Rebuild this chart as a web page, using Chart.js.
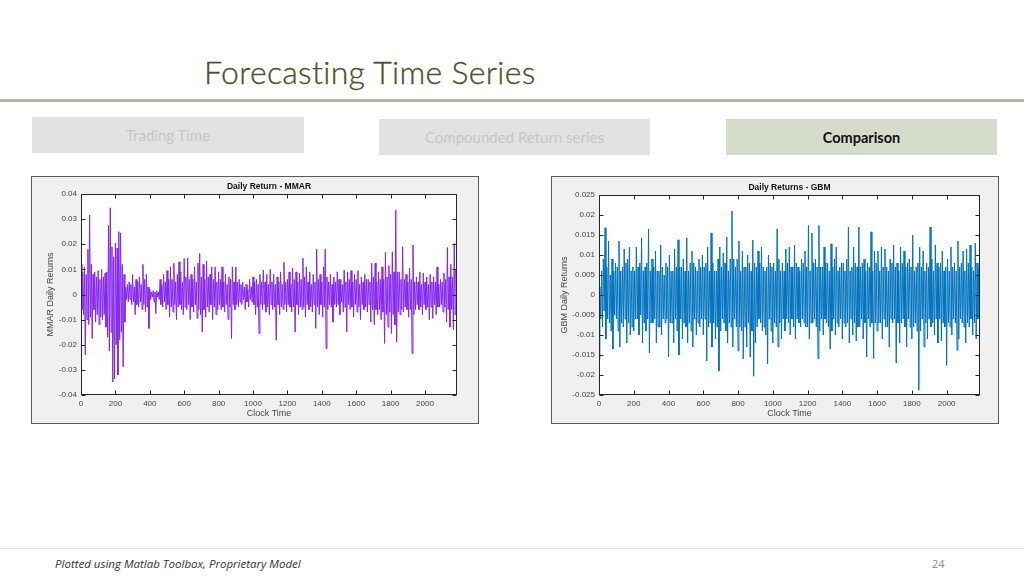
<!DOCTYPE html>
<html><head><meta charset="utf-8">
<script src="https://cdn.jsdelivr.net/npm/chart.js@4.4.1/dist/chart.umd.min.js"></script>
<style>
html,body{margin:0;padding:0;background:#fff;width:1024px;height:576px;overflow:hidden;font-family:"Liberation Sans",Arial,sans-serif;}
.abs{position:absolute;}
#title{left:204px;top:52px;font-family:Lato,"Open Sans",sans-serif;font-weight:300;font-size:32px;color:#46522a;letter-spacing:0.3px;white-space:nowrap;-webkit-text-stroke:0.3px #46522a;}
#rule{left:0;top:99px;width:1024px;height:3px;background:#b4baa0;}
.tab{height:36px;display:flex;align-items:center;justify-content:center;font-family:Lato,sans-serif;font-size:15px;}
#t1{left:32px;top:117px;width:272px;background:#e2e2e2;color:#c6c6c6;}
#t2{left:379px;top:119px;width:271px;background:#e2e2e2;color:#c6c6c6;}
#t3{left:726px;top:119px;width:271px;background:#d6dccb;color:#111;font-weight:bold;font-size:14.5px;}
.box{border:1px solid #5a5a5a;background:#f0f0f0;width:446px;height:246px;}
#b1{left:31px;top:176px;}
#b2{left:551px;top:176px;}
#foot{left:0;top:548px;width:1024px;height:1px;background:#e2e2e2;}
#note{left:55px;top:556px;font-family:"Open Sans",sans-serif;font-style:italic;font-size:11.5px;color:#333;}
#page{left:932px;top:556px;font-family:"Open Sans",sans-serif;font-size:11px;color:#888;}
</style></head>
<body>
<div id="title" class="abs">Forecasting Time Series</div>
<div id="rule" class="abs"></div>
<div id="t1" class="abs tab">Trading Time</div>
<div id="t2" class="abs tab">Compounded Return series</div>
<div id="t3" class="abs tab">Comparison</div>
<div id="b1" class="abs box"><canvas id="c1" width="446" height="246"></canvas></div>
<div id="b2" class="abs box"><canvas id="c2" width="446" height="246"></canvas></div>
<div id="foot" class="abs"></div>
<div id="note" class="abs">Plotted using Matlab Toolbox, Proprietary Model</div>
<div id="page" class="abs">24</div>
<script>
const mmarReturns = [
 0.012,-0.006,0.009,-0.008,0.011,-0.024,0.008,-0.01,0.018,-0.012,0.0316,-0.009,0.012,-0.0175,0.008,-0.006,0.009,-0.011,0.007,-0.008,
 0.0095,-0.012,0.006,-0.009,0.01,-0.01,0.007,-0.008,0.0085,-0.013,0.009,-0.017,0.0275,-0.0225,0.0345,-0.015,0.019,-0.0348,0.015,-0.0335,
 0.0205,-0.02,0.0185,-0.032,0.025,-0.018,0.0245,-0.015,0.012,-0.0288,0.008,-0.011,0.003,-0.002,0.004,-0.003,0.005,-0.002,0.004,-0.004,
 0.008,-0.003,0.003,-0.008,0.006,-0.004,0.005,-0.005,0.007,-0.003,0.004,-0.006,0.012,-0.004,0.006,-0.007,0.008,-0.005,0.003,-0.0135,
 0.002,-0.002,0.001,-0.001,0.0015,-0.003,0.001,-0.0076,0.0015,-0.001,0.001,-0.002,0.006,-0.004,0.004,-0.005,0.008,-0.003,0.005,-0.006,
 0.0095,-0.004,0.006,-0.009,0.011,-0.005,0.006,-0.007,0.0124,-0.004,0.005,-0.01,0.008,-0.005,0.013,-0.004,0.009,-0.006,0.005,-0.008,
 0.0143,-0.005,0.007,-0.006,0.0145,-0.004,0.006,-0.01,0.008,-0.005,0.006,-0.007,0.011,-0.004,0.005,-0.0095,0.0125,-0.006,0.0163,-0.008,
 0.007,-0.015,0.012,-0.006,0.006,-0.009,0.0133,-0.005,0.007,-0.007,0.008,-0.004,0.011,-0.01,0.006,-0.005,0.011,-0.008,0.005,-0.006,
 0.009,-0.004,0.006,-0.006,0.011,-0.005,0.005,-0.007,0.008,-0.004,0.004,-0.01,0.007,-0.005,0.006,-0.0175,0.011,-0.004,0.005,-0.006,
 0.011,-0.004,0.005,-0.005,0.006,-0.003,0.004,-0.004,0.005,-0.002,0.003,-0.006,0.004,-0.003,0.002,-0.005,0.006,-0.002,0.003,-0.003,
 0.007,-0.004,0.005,-0.008,0.006,-0.005,0.004,-0.0155,0.008,-0.004,0.005,-0.006,0.0097,-0.004,0.005,-0.007,0.008,-0.005,0.004,-0.008,
 0.01,-0.004,0.005,-0.006,0.008,-0.005,0.004,-0.0182,0.007,-0.004,0.005,-0.008,0.009,-0.005,0.004,-0.006,0.0128,-0.004,0.005,-0.007,
 0.006,-0.004,0.009,-0.005,0.004,-0.007,0.0105,-0.005,0.006,-0.015,0.009,-0.004,0.005,-0.008,0.0085,-0.005,0.006,-0.006,0.0145,-0.005,
 0.007,-0.009,0.011,-0.004,0.005,-0.006,0.009,-0.005,0.004,-0.007,0.008,-0.004,0.005,-0.0135,0.018,-0.005,0.006,-0.008,0.008,-0.004,
 0.005,-0.009,0.011,-0.005,0.018,-0.0215,0.007,-0.006,0.005,-0.004,0.008,-0.005,0.004,-0.011,0.007,-0.004,0.005,-0.005,0.009,-0.004,
 0.006,-0.008,0.006,-0.003,0.004,-0.007,0.0097,-0.005,0.005,-0.0149,0.009,-0.004,0.006,-0.006,0.0095,-0.005,0.005,-0.009,0.008,-0.004,
 0.006,-0.007,0.0095,-0.005,0.004,-0.01,0.007,-0.004,0.005,-0.006,0.008,-0.005,0.006,-0.007,0.006,-0.004,0.005,-0.011,0.0124,-0.006,
 0.007,-0.012,0.0125,-0.006,0.005,-0.008,0.009,-0.006,0.006,-0.01,0.011,-0.007,0.006,-0.0195,0.0168,-0.008,0.007,-0.013,0.0115,-0.007,
 0.008,-0.0155,0.017,-0.008,0.009,-0.012,0.0336,-0.019,0.009,-0.007,0.009,-0.008,0.006,-0.006,0.019,-0.007,0.006,-0.005,0.008,-0.006,
 0.005,-0.009,0.0105,-0.006,0.006,-0.0235,0.0197,-0.008,0.005,-0.006,0.007,-0.004,0.005,-0.006,0.009,-0.005,0.004,-0.008,0.0085,-0.004,
 0.005,-0.006,0.007,-0.005,0.004,-0.01,0.008,-0.005,0.005,-0.0095,0.007,-0.004,0.005,-0.008,0.011,-0.005,0.004,-0.005,0.006,-0.004,
 0.005,-0.007,0.0085,-0.005,0.006,-0.011,0.0187,-0.006,0.007,-0.013,0.012,-0.006,0.007,-0.014,0.0203,-0.008,0.01,-0.006
];
const gbmReturns = [
 -0.016,0.002,-0.006,0.006,-0.008,0.009,-0.004,0.0168,-0.011,0.007,-0.006,0.0135,-0.007,0.005,-0.009,0.009,-0.0135,0.006,-0.005,0.008,
 -0.006,0.007,-0.009,0.0135,-0.013,0.006,-0.007,0.007,-0.008,0.0115,-0.006,0.008,-0.012,0.009,-0.007,0.012,-0.01,0.006,-0.008,0.007,
 -0.009,0.006,-0.006,0.012,-0.006,0.007,-0.01,0.008,-0.005,0.0143,-0.012,0.006,-0.007,0.007,-0.009,0.008,-0.006,0.0165,-0.0145,0.006,
 -0.007,0.009,-0.007,0.007,-0.006,0.011,-0.012,0.006,-0.008,0.006,-0.008,0.0125,-0.01,0.007,-0.006,0.005,-0.007,0.008,-0.006,0.007,
 -0.0155,0.01,-0.007,0.006,-0.007,0.006,-0.012,0.0115,-0.006,0.007,-0.009,0.0138,-0.015,0.007,-0.006,0.007,-0.011,0.009,-0.007,0.006,
 -0.008,0.0143,-0.012,0.006,-0.007,0.008,-0.009,0.011,-0.013,0.008,-0.006,0.007,-0.01,0.006,-0.007,0.009,-0.008,0.007,-0.006,0.01,
 -0.01,0.007,-0.006,0.008,-0.0165,0.012,-0.008,0.006,-0.007,0.0155,-0.013,0.008,-0.007,0.006,-0.011,0.006,-0.008,0.009,-0.019,0.012,
 -0.009,0.007,-0.006,0.0105,-0.007,0.008,-0.009,0.0145,-0.012,0.006,-0.007,0.009,-0.008,0.021,-0.013,0.009,-0.006,0.007,-0.008,0.009,
 -0.014,0.0135,-0.008,0.006,-0.009,0.011,-0.016,0.007,-0.008,0.007,-0.013,0.01,-0.007,0.008,-0.0155,0.006,-0.009,0.0137,-0.0203,0.008,
 -0.012,0.007,-0.008,0.011,-0.006,0.008,-0.007,0.012,-0.009,0.007,-0.008,0.006,-0.01,0.007,-0.0172,0.01,-0.006,0.008,-0.009,0.007,
 -0.012,0.008,-0.007,0.006,-0.008,0.0165,-0.013,0.009,-0.007,0.006,-0.011,0.008,-0.006,0.006,-0.009,0.0115,-0.006,0.008,-0.007,0.012,
 -0.01,0.007,-0.006,0.007,-0.008,0.0125,-0.011,0.008,-0.006,0.007,-0.007,0.006,-0.008,0.009,-0.006,0.008,-0.007,0.011,-0.008,0.007,
 -0.008,0.0174,-0.011,0.006,-0.007,0.0155,-0.007,0.008,-0.006,0.009,-0.008,0.007,-0.0159,0.0174,-0.009,0.007,-0.006,0.007,-0.01,0.012,
 -0.006,0.008,-0.007,0.008,-0.008,0.006,-0.0135,0.0128,-0.009,0.007,-0.006,0.009,-0.01,0.012,-0.007,0.006,-0.008,0.007,-0.006,0.008,
 -0.011,0.008,-0.007,0.006,-0.008,0.009,-0.007,0.017,-0.012,0.006,-0.006,0.007,-0.01,0.012,-0.007,0.008,-0.0115,0.007,-0.008,0.017,
 -0.008,0.007,-0.006,0.008,-0.011,0.009,-0.007,0.006,-0.0155,0.008,-0.006,0.007,-0.008,0.0158,-0.007,0.006,-0.0159,0.011,-0.007,0.008,
 -0.009,0.011,-0.007,0.006,-0.007,0.012,-0.011,0.007,-0.006,0.0115,-0.008,0.007,-0.008,0.006,-0.013,0.009,-0.006,0.008,-0.007,0.0125,
 -0.006,0.007,-0.017,0.008,-0.007,0.006,-0.012,0.012,-0.007,0.008,-0.006,0.011,-0.008,0.007,-0.013,0.008,-0.006,0.009,-0.008,0.007,
 -0.011,0.015,-0.008,0.006,-0.007,0.007,-0.009,0.008,-0.0238,0.012,-0.009,0.007,-0.006,0.011,-0.013,0.006,-0.007,0.008,-0.011,0.007,
 -0.006,0.017,-0.008,0.009,-0.007,0.006,-0.01,0.0125,-0.006,0.008,-0.012,0.007,-0.006,0.008,-0.0115,0.011,-0.007,0.006,-0.008,0.007,
 -0.0176,0.009,-0.007,0.006,-0.008,0.012,-0.01,0.007,-0.006,0.008,-0.007,0.006,-0.0138,0.0135,-0.011,0.007,-0.006,0.008,-0.007,0.011,
 -0.008,0.006,-0.012,0.0115,-0.007,0.008,-0.008,0.0125,-0.006,0.007,-0.01,0.006,-0.007,0.013,-0.011,0.008,-0.006,0.007
];
const clockStep = 5;
const mmarTime = mmarReturns.map((_, i) => i * clockStep);
const gbmTime = gbmReturns.map((_, i) => i * clockStep);
const xTicks = [0,200,400,600,800,1000,1200,1400,1600,1800,2000];
const mmarYTicks = [-0.04,-0.03,-0.02,-0.01,0,0.01,0.02,0.03,0.04];
const gbmYTicks = [-0.025,-0.02,-0.015,-0.01,-0.005,0,0.005,0.01,0.015,0.02,0.025];

const matlabFrame = {
  id: 'matlabFrame',
  beforeDatasetsDraw(chart) {
    const {ctx, chartArea: a} = chart;
    ctx.save(); ctx.fillStyle = '#ffffff';
    ctx.fillRect(a.left, a.top, a.right - a.left, a.bottom - a.top);
    ctx.restore();
  },
  afterDraw(chart, args, o) {
    const {ctx, chartArea: a, scales: {x, y}} = chart;
    ctx.save();
    ctx.strokeStyle = '#262626'; ctx.lineWidth = 1;
    const L = Math.round(a.left) + 0.5, R = Math.round(a.right) - 0.5, T = Math.round(a.top) + 0.5, B = Math.round(a.bottom) - 0.5;
    ctx.strokeRect(L, T, R - L, B - T);
    ctx.beginPath();
    x.ticks.forEach(t => { const p = Math.round(x.getPixelForValue(t.value)) + 0.5;
      ctx.moveTo(p, B); ctx.lineTo(p, B - 4); ctx.moveTo(p, T); ctx.lineTo(p, T + 4); });
    y.ticks.forEach(t => { const p = Math.round(y.getPixelForValue(t.value)) + 0.5;
      ctx.moveTo(L, p); ctx.lineTo(L + 4, p); ctx.moveTo(R, p); ctx.lineTo(R - 4, p); });
    ctx.stroke();
    ctx.fillStyle = '#111';
    ctx.font = 'bold 8.5px "Liberation Sans", Arial, sans-serif';
    ctx.textAlign = 'center'; ctx.textBaseline = 'alphabetic';
    ctx.fillText(o.title, (a.left + a.right) / 2, a.top - 5);
    ctx.fillStyle = '#444';
    ctx.font = '9px "Liberation Sans", Arial, sans-serif';
    ctx.textBaseline = 'middle';
    ctx.fillText(o.xLabel, (a.left + a.right) / 2, a.bottom + 18.5);
    ctx.translate(o.yLabelX, (a.top + a.bottom) / 2);
    ctx.rotate(-Math.PI / 2);
    ctx.fillText(o.yLabel, 0, 0);
    ctx.restore();
  }
};

function makeChart(id, times, values, color, yTicks, yMin, yMax, xMax, pad, yW, title, yLabel, yLabelX) {
  return new Chart(document.getElementById(id), {
    type: 'line',
    data: { datasets: [{ data: values.map((v, i) => ({x: times[i], y: v})),
      borderColor: color, borderWidth: 1, pointRadius: 0, tension: 0, fill: false }] },
    options: {
      responsive: false, animation: false, events: [],
      layout: { padding: pad },
      plugins: { legend: {display: false}, tooltip: {enabled: false},
        matlabFrame: { title: title, xLabel: 'Clock Time', yLabel: yLabel, yLabelX: yLabelX } },
      scales: {
        x: { type: 'linear', min: 0, max: xMax,
          afterBuildTicks: s => { s.ticks = xTicks.map(v => ({value: v})); },
          afterFit: s => { s.height = 28; },
          grid: {display: false, drawTicks: false}, border: {display: false},
          ticks: { padding: 4, maxRotation: 0, autoSkip: false, color: '#444', font: {size: 8, family: '"Liberation Sans", Arial, sans-serif'}, callback: v => String(v) } },
        y: { type: 'linear', min: yMin, max: yMax,
          afterBuildTicks: s => { s.ticks = yTicks.map(v => ({value: v})); },
          afterFit: s => { s.width = yW; },
          grid: {display: false, drawTicks: false}, border: {display: false},
          ticks: { padding: 4, autoSkip: false, color: '#444', font: {size: 8, family: '"Liberation Sans", Arial, sans-serif'}, callback: v => String(v) } }
      }
    },
    plugins: [matlabFrame]
  });
}

makeChart('c1', mmarTime, mmarReturns, '#8526f0', mmarYTicks, -0.04, 0.04, 2186,
  {left: 0, right: 21, top: 17, bottom: 0}, 49, 'Daily Return - MMAR', 'MMAR Daily Returns', 19);
makeChart('c2', gbmTime, gbmReturns, '#0072bd', gbmYTicks, -0.025, 0.025, 2192,
  {left: 0, right: 18, top: 18, bottom: 0}, 47, 'Daily Returns - GBM', 'GBM Daily Returns', 13);
</script>
</body></html>
